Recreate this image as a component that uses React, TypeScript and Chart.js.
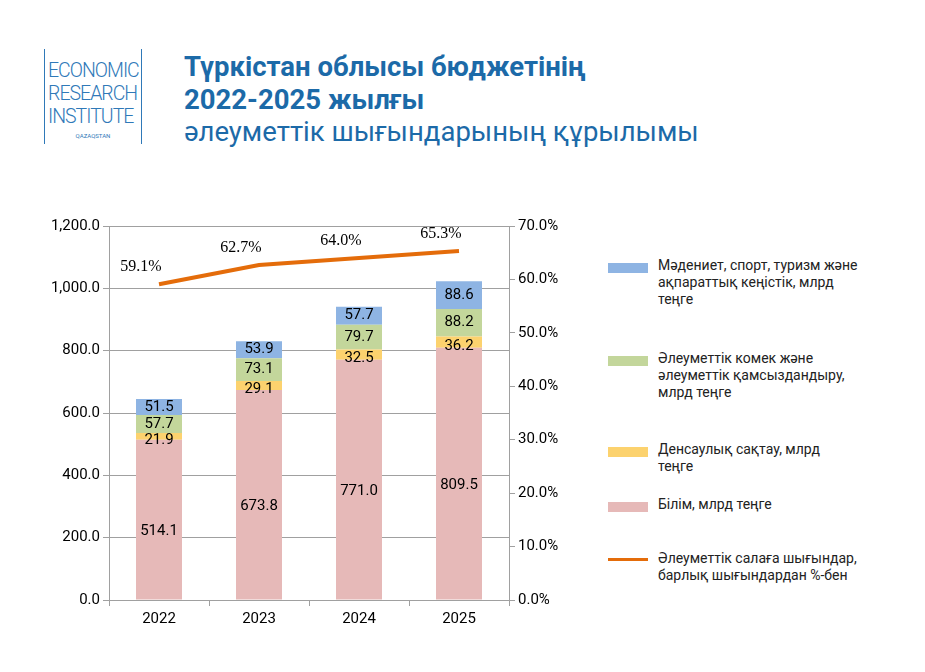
import React, { useEffect, useRef } from "react";
import { Chart, registerables } from "chart.js";
Chart.register(...registerables);

const years = ["2022", "2023", "2024", "2025"];
const edu = [514.1, 673.8, 771.0, 809.5];
const health = [21.9, 29.1, 32.5, 36.2];
const social = [57.7, 73.1, 79.7, 88.2];
const culture = [51.5, 53.9, 57.7, 88.6];
const share = [59.1, 62.7, 64.0, 65.3];
const leftTicks = [0, 200, 400, 600, 800, 1000, 1200];

const C_EDU = "#e6b9b8", C_HEALTH = "#fcd26e", C_SOC = "#c3d69b", C_CUL = "#8eb4e3", C_LINE = "#e46c0a";

const legend = [
  { color: C_CUL, text: "Мәдениет, спорт, туризм және\nақпараттық кеңістік, млрд\nтеңге", top: 257, line: false },
  { color: C_SOC, text: "Әлеуметтік комек және\nәлеуметтік қамсыздандыру,\nмлрд теңге", top: 350, line: false },
  { color: C_HEALTH, text: "Денсаулық сақтау, млрд\nтеңге", top: 441, line: false },
  { color: C_EDU, text: "Білім, млрд теңге", top: 496, line: false },
  { color: C_LINE, text: "Әлеуметтік салаға шығындар,\nбарлық шығындардан %-бен", top: 550, line: true },
];

export default function App() {
  const ref = useRef<HTMLCanvasElement>(null);
  useEffect(() => {
    const labelPlugin = {
      id: "lbl",
      afterDatasetsDraw(chart: any) {
        const ctx = chart.ctx;
        ctx.save();
        ctx.fillStyle = "#000";
        ctx.textAlign = "center";
        ctx.textBaseline = "middle";
        chart.data.datasets.forEach((ds: any, i: number) => {
          const meta = chart.getDatasetMeta(i);
          meta.data.forEach((el: any, j: number) => {
            const v = ds.data[j];
            if (ds.type === "line") {
              ctx.font = "16px 'Liberation Serif', serif";
              ctx.fillText(v.toFixed(1) + "%", el.x - 18, el.y - 17);
            } else {
              ctx.font = "15px Roboto, sans-serif";
              ctx.fillText(v.toFixed(1), el.x, (el.y + el.base) / 2 + (i === 0 ? 12 : i === 1 ? 4 : 0));
            }
          });
        });
        ctx.restore();
      },
    };
    const ch = new Chart(ref.current!, {
      type: "bar",
      data: {
        labels: years,
        datasets: [
          { label: "edu", data: edu, backgroundColor: C_EDU, stack: "s", yAxisID: "y", order: 2 },
          { label: "health", data: health, backgroundColor: C_HEALTH, stack: "s", yAxisID: "y", order: 2 },
          { label: "soc", data: social, backgroundColor: C_SOC, stack: "s", yAxisID: "y", order: 2 },
          { label: "cul", data: culture, backgroundColor: C_CUL, stack: "s", yAxisID: "y", order: 2 },
          { type: "line", label: "share", data: share, borderColor: C_LINE, borderWidth: 4, pointRadius: 0, yAxisID: "y1", order: 1 } as any,
        ],
      },
      options: {
        animation: false,
        responsive: false,
        layout: { padding: { top: 21, left: 0, right: 0, bottom: 0 } },
        plugins: { legend: { display: false }, tooltip: { enabled: false } },
        datasets: { bar: { barPercentage: 0.46, categoryPercentage: 1 } },
        scales: {
          x: {
            stacked: true,
            grid: { offset: true, drawOnChartArea: false, tickLength: 6, color: "#a0a0a0" },
            border: { color: "#a0a0a0" },
            ticks: { color: "#000", font: { size: 15, family: "Roboto" }, padding: 4 },
            afterFit: (s: any) => { s.height = 45; },
          },
          y: {
            stacked: true,
            min: 0, max: 1200,
            afterBuildTicks: (s: any) => { s.ticks = leftTicks.map((v) => ({ value: v })); },
            grid: { color: "#a0a0a0", tickLength: 6, tickColor: "#a0a0a0" },
            border: { color: "#a0a0a0" },
            ticks: { color: "#000", font: { size: 15, family: "Roboto" }, callback: (v: any) => Number(v).toLocaleString("en-US", { minimumFractionDigits: 1 }) },
            afterFit: (s: any) => { s.width = 109; },
          },
          y1: {
            position: "right",
            min: 0, max: 70,
            grid: { drawOnChartArea: false, tickLength: 6, color: "#a0a0a0" } as any,
            border: { color: "#a0a0a0" },
            ticks: { stepSize: 10, color: "#000", font: { size: 15, family: "Roboto" }, callback: (v: any) => Number(v).toFixed(1) + "%" },
            afterFit: (s: any) => { s.width = 91; },
          },
        },
      },
      plugins: [labelPlugin],
    });
    return () => ch.destroy();
  }, []);

  return (
    <div style={{ position: "relative", width: 925, height: 672, margin: -8, background: "#fff", fontFamily: "Roboto, sans-serif" }}>
      <div style={{ position: "absolute", left: 44, top: 49, width: 96, height: 95, borderLeft: "1.5px solid #2f79b8", borderRight: "1.5px solid #2f79b8" }}>
        <div style={{ position: "absolute", left: 3, top: 10, color: "#2f79b8", fontSize: 19.5, lineHeight: "23px", letterSpacing: -1, fontWeight: 300, whiteSpace: "nowrap" }}>
          ECONOMIC<br />RESEARCH<br />INSTITUTE
        </div>
        <div style={{ position: "absolute", left: 0, width: 96, top: 83, textAlign: "center", fontSize: 6, color: "#2f79b8" }}>QAZAQSTAN</div>
      </div>
      <div style={{ position: "absolute", left: 184, top: 50, color: "#1c6aa8", fontSize: 27.5, fontWeight: 700, lineHeight: "33px" }}>
        Түркістан облысы бюджетінің<br />2022-2025 жылғы
      </div>
      <div style={{ position: "absolute", left: 184, top: 115, color: "#1c6aa8", fontSize: 27.5, lineHeight: "33px" }}>
        әлеуметтік шығындарының құрылымы
      </div>
      <canvas ref={ref} width={600} height={440} style={{ position: "absolute", left: 0, top: 205, width: 600, height: 440 }} />
      {legend.map((l, i) => (
        <div key={i} style={{ position: "absolute", left: 608, top: l.top, width: 270 }}>
          <div style={{ position: "absolute", left: 0, top: l.line ? 8 : 6, width: 40, height: l.line ? 3 : 10, background: l.color }} />
          <div style={{ position: "absolute", left: 50, top: 0, width: 230, fontSize: 14, lineHeight: "17px", color: "#222", whiteSpace: "pre-line" }}>{l.text}</div>
        </div>
      ))}
    </div>
  );
}
